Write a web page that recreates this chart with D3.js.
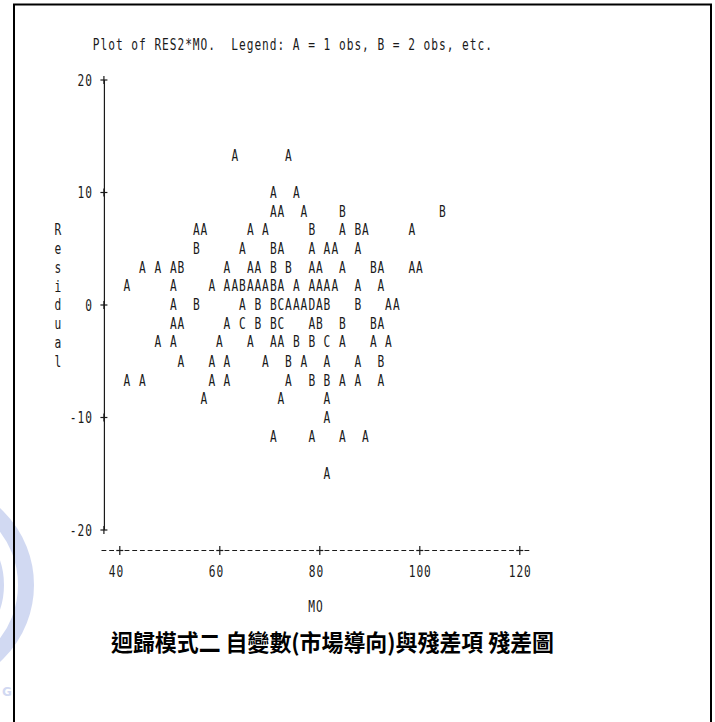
<!DOCTYPE html>
<html><head><meta charset="utf-8">
<script src="https://cdn.jsdelivr.net/npm/d3@7"></script>
<style>
html,body{margin:0;padding:0;background:#fff;}
svg{display:block;}
.lp{font-family:"DejaVu Sans Mono",monospace;font-size:16px;fill:#1a1a1a;}
</style></head><body>
<svg id="chart" width="715" height="722"></svg>
<script>
// ---- data ----
const xTicks = [40, 60, 80, 100, 120];
const yTicks = [-20, -10, 0, 10, 20];
const titleText = "Plot of RES2*MO.  Legend: A = 1 obs, B = 2 obs, etc.";
const xLabel = "MO";
const yLabel = "Residual";
const caption = "迴歸模式二 自變數(市場導向)與殘差項 殘差圖";

const mo = [
  63.1, 73.8,
  70.8, 75.4,
  70.8, 72.3, 76.9, 84.6, 104.6,
  55.4, 56.9, 66.2, 69.2, 78.5, 84.6, 87.7, 89.2, 98.5,
  55.4, 64.6, 70.8, 72.3, 78.5, 81.5, 83.1, 87.7,
  44.6, 47.7, 50.8, 52.3, 61.5, 66.2, 67.7, 70.8, 73.8, 78.5, 80.0, 84.6, 90.8, 92.3, 98.5, 100.0,
  41.5, 50.8, 58.5, 61.5, 63.1, 64.6, 66.2, 67.7, 69.2, 70.8, 72.3, 75.4, 78.5, 80.0, 81.5, 83.1, 87.7, 92.3,
  50.8, 55.4, 64.6, 67.7, 70.8, 72.3, 73.8, 75.4, 76.9, 78.5, 80.0, 81.5, 87.7, 93.8, 95.4,
  50.8, 52.3, 61.5, 64.6, 67.7, 70.8, 72.3, 78.5, 80.0, 84.6, 90.8, 92.3,
  47.7, 50.8, 60.0, 66.2, 70.8, 72.3, 75.4, 78.5, 81.5, 84.6, 90.8, 93.8,
  52.3, 58.5, 61.5, 69.2, 73.8, 76.9, 81.5, 87.7, 92.3,
  41.5, 44.6, 58.5, 61.5, 73.8, 78.5, 81.5, 84.6, 87.7, 92.3,
  56.9, 72.3, 81.5,
  81.5,
  70.8, 78.5, 84.6, 89.2,
  81.5
];
const residual = [
  13.3, 13.3,
  10.0, 10.0,
  8.3, 8.3, 8.3, 8.3, 8.3,
  6.7, 6.7, 6.7, 6.7, 6.7, 6.7, 6.7, 6.7, 6.7,
  5.0, 5.0, 5.0, 5.0, 5.0, 5.0, 5.0, 5.0,
  3.3, 3.3, 3.3, 3.3, 3.3, 3.3, 3.3, 3.3, 3.3, 3.3, 3.3, 3.3, 3.3, 3.3, 3.3, 3.3,
  1.7, 1.7, 1.7, 1.7, 1.7, 1.7, 1.7, 1.7, 1.7, 1.7, 1.7, 1.7, 1.7, 1.7, 1.7, 1.7, 1.7, 1.7,
  0, 0, 0, 0, 0, 0, 0, 0, 0, 0, 0, 0, 0, 0, 0,
  -1.7, -1.7, -1.7, -1.7, -1.7, -1.7, -1.7, -1.7, -1.7, -1.7, -1.7, -1.7,
  -3.3, -3.3, -3.3, -3.3, -3.3, -3.3, -3.3, -3.3, -3.3, -3.3, -3.3, -3.3,
  -5.0, -5.0, -5.0, -5.0, -5.0, -5.0, -5.0, -5.0, -5.0,
  -6.7, -6.7, -6.7, -6.7, -6.7, -6.7, -6.7, -6.7, -6.7, -6.7,
  -8.3, -8.3, -8.3,
  -10.0,
  -11.7, -11.7, -11.7, -11.7,
  -15.0
];
const nObs = [
  1, 1,
  1, 1,
  1, 1, 1, 2, 2,
  1, 1, 1, 1, 2, 1, 2, 1, 1,
  2, 1, 2, 1, 1, 1, 1, 1,
  1, 1, 1, 2, 1, 1, 1, 2, 2, 1, 1, 1, 2, 1, 1, 1,
  1, 1, 1, 1, 1, 2, 1, 1, 1, 2, 1, 1, 1, 1, 1, 1, 1, 1,
  1, 2, 1, 2, 2, 3, 1, 1, 1, 4, 1, 2, 2, 1, 1,
  1, 1, 1, 3, 2, 2, 3, 1, 2, 2, 2, 1,
  1, 1, 1, 1, 1, 1, 2, 2, 3, 1, 1, 1,
  1, 1, 1, 1, 2, 1, 1, 1, 2,
  1, 1, 1, 1, 1, 2, 2, 1, 1, 1,
  1, 1, 1,
  1,
  1, 1, 1, 1,
  1
];

// ---- drawing ----
const svg = d3.select("#chart");
svg.append("rect").attr("width", 715).attr("height", 722).attr("fill", "#fff");

// faint watermark emblem at left edge
const wm = svg.append("g").attr("opacity", 0.4);
wm.append("circle").attr("cx", -70).attr("cy", 585).attr("r", 96)
  .attr("fill", "none").attr("stroke", "#8fa2e0").attr("stroke-width", 16);
wm.append("circle").attr("cx", -70).attr("cy", 585).attr("r", 72)
  .attr("fill", "none").attr("stroke", "#8fa2e0").attr("stroke-width", 4);
wm.append("text").attr("x", 2).attr("y", 696).attr("font-family", "DejaVu Sans")
  .attr("font-weight", "bold").attr("font-size", 12).attr("fill", "#8fa2e0").text("G");

// frame
svg.append("rect").attr("x", 14).attr("y", 4.5).attr("width", 697).attr("height", 800)
  .attr("fill", "none").attr("stroke", "#000").attr("stroke-width", 2);

const x = d3.scaleLinear().domain([40, 120]).range([119.3, 519.3]);
const y = d3.scaleLinear().domain([-20, 20]).range([529.5, 79.5]);
const cw = (x(120) - x(40)) / 52;   // one print column
const rh = (y(10) - y(20)) / 6;     // one print row

function lpChar(g, ch, cx, cy) {
  if (ch === " ") return;
  g.append("text").attr("class", "lp")
    .attr("transform", `translate(${cx},${cy + 5.8}) scale(0.7,1)`)
    .attr("text-anchor", "middle").text(ch);
}
function lpText(g, str, firstCx, cy) {
  for (let i = 0; i < str.length; i++) lpChar(g, str[i], firstCx + i * cw, cy);
}

// title
lpText(svg, titleText, x(40) - 3 * cw, 44.5);

// y axis
const yAxisG = svg.append("g").attr("transform", `translate(${x(40) - 2 * cw},0)`)
  .call(d3.axisLeft(y).tickValues(yTicks).tickSize(0).tickSizeOuter(0).tickFormat(""));
yAxisG.select(".domain").attr("stroke", "#1a1a1a").attr("stroke-width", 1.2);
yAxisG.selectAll(".tick").each(function (d) {
  const t = d3.select(this);
  t.select("text").remove();
  t.append("line").attr("x1", -3.5).attr("x2", 3.5).attr("stroke", "#1a1a1a").attr("stroke-width", 1.2);
  t.append("line").attr("y1", -4).attr("y2", 4).attr("stroke", "#1a1a1a").attr("stroke-width", 1.2);
  const s = String(d);
  lpText(t, s, -2 * cw - (s.length - 1) * cw, 0);
});

// y label (vertical letters)
for (let i = 0; i < yLabel.length; i++) {
  lpChar(svg, yLabel[i], x(40) - 8 * cw, y(20) + (8 + i) * rh);
}

// x axis
const xAxisY = 550.5;
const xAxisG = svg.append("g").attr("transform", `translate(0,${xAxisY})`)
  .call(d3.axisBottom(x).tickValues(xTicks).tickSize(0).tickSizeOuter(0).tickFormat(""));
xAxisG.select(".domain").remove();
xAxisG.append("line")
  .attr("x1", x(40) - 2 * cw - 2.4).attr("x2", x(120) + cw + 2.4)
  .attr("stroke", "#1a1a1a").attr("stroke-width", 1.2)
  .attr("stroke-dasharray", `4.8 ${(cw - 4.8).toFixed(2)}`);
xAxisG.selectAll(".tick").each(function (d) {
  const t = d3.select(this);
  t.select("text").remove();
  t.append("line").attr("x1", -3.5).attr("x2", 3.5).attr("stroke", "#1a1a1a").attr("stroke-width", 1.2);
  t.append("line").attr("y1", -4.5).attr("y2", 4.5).attr("stroke", "#1a1a1a").attr("stroke-width", 1.2);
  lpText(t, String(d), -cw, 571 - xAxisY);
});

// x label
lpText(svg, xLabel, x(40) + 25 * cw, 606.5);

// points (letters = count of obs)
const pts = mo.map((m, i) => ({ m, r: residual[i], n: nObs[i] }));
const pg = svg.append("g");
pts.forEach(p => lpChar(pg, String.fromCharCode(64 + p.n), x(p.m), y(p.r)));

// caption
svg.append("text").attr("x", 111).attr("y", 651)
  .attr("font-family", "'Noto Sans CJK TC','Noto Sans CJK SC',sans-serif")
  .attr("font-weight", "bold").attr("font-size", 23)
  .attr("textLength", 443).attr("lengthAdjust", "spacingAndGlyphs")
  .attr("fill", "#000").text(caption);
</script>
</body></html>
